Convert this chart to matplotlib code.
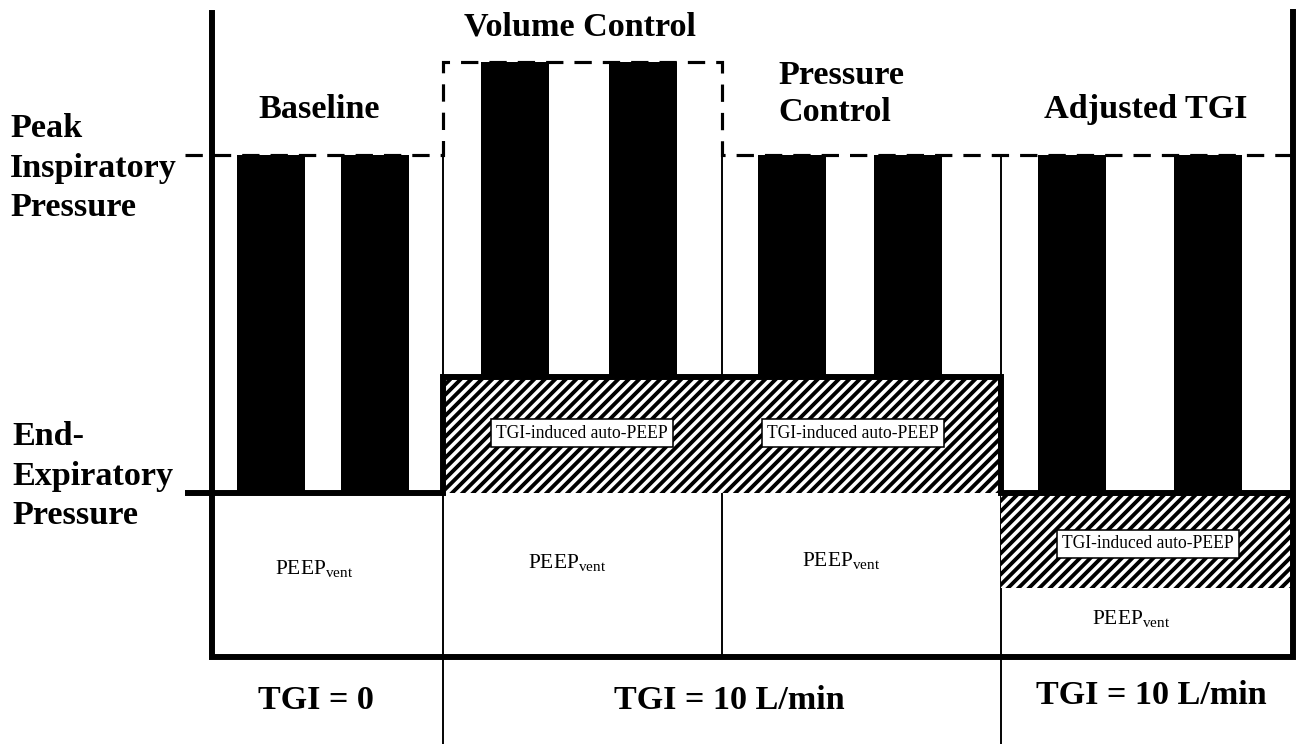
import matplotlib
matplotlib.use("Agg")
import matplotlib.pyplot as plt

# ----------------------------------------------------------------------------------------------------------------------
# Schematic data (units = reference picture pixels, y grows downwards)

section_names = ["Baseline", "Volume Control", "Pressure\nControl", "Adjusted TGI"]
section_edges = [185, 443, 722, 1001, 1293]
peak_levels = [155, 62, 155, 155]          # peak inspiratory pressure per section
eep_levels = [493, 377, 377, 493]          # end-expiratory pressure per section
bar_lefts = [[237, 341], [481, 609], [758, 874], [1038, 1174]]
bar_width = 68
bar_tops = [155, 62, 155, 155]
bar_bottoms = [493, 377, 377, 493]

# hatched TGI-induced auto-PEEP blocks: left, right, top, bottom
auto_peep_left = [443, 1001]
auto_peep_right = [1001, 1293]
auto_peep_top = [377, 493]
auto_peep_bottom = [493, 588]
auto_peep_label_pos = [(582, 433), (853, 433), (1148, 544)]

peep_label_pos = [(314, 569), (567, 563), (841, 561), (1131, 619)]

tgi_labels = ["TGI = 0", "TGI = 10 L/min", "TGI = 10 L/min"]
tgi_label_pos = [(316, 709), (729, 709), (1151, 704)]

frame_x = [212, 212, 1293, 1293]
frame_y = [13, 657, 657, 12]
divider_x = [443, 722, 1001]
divider_top = [155, 155, 155]
divider_bottom = [744, 657, 744]

# ----------------------------------------------------------------------------------------------------------------------

plt.rcParams["font.family"] = ["Liberation Serif", "DejaVu Serif"]
plt.rcParams["mathtext.fontset"] = "custom"
plt.rcParams["mathtext.rm"] = "Liberation Serif"
plt.rcParams["hatch.linewidth"] = 2.2

DPI = 126
fig = plt.figure(figsize=(1299 / DPI, 744 / DPI), dpi=DPI)
ax = fig.add_axes([0, 0, 1, 1])
ax.set_xlim(0, 1299)
ax.set_ylim(744, 0)
ax.axis("off")

# Thin section dividers
for x_, t_, b_ in zip(divider_x, divider_top, divider_bottom):
    ax.plot([x_, x_], [t_, b_], color="black", lw=1.1, zorder=1)

# Breath bars
for lefts, top, bottom in zip(bar_lefts, bar_tops, bar_bottoms):
    ax.bar(lefts, bottom - top, bottom=top, width=bar_width, align="edge", color="black", zorder=2)

# Hatched auto-PEEP blocks
for l_, r_, t_, b_ in zip(auto_peep_left, auto_peep_right, auto_peep_top, auto_peep_bottom):
    ax.bar(l_, b_ - t_, bottom=t_, width=r_ - l_, align="edge", facecolor="white",
           edgecolor="black", hatch="////", lw=0, zorder=1.5)

# Peak inspiratory pressure (dashed) and end-expiratory pressure (thick)
ax.stairs(peak_levels, section_edges, baseline=None, color="black", lw=1.8,
          linestyle=(0, (5.5, 3.5)), zorder=4)
ax.stairs(eep_levels, section_edges, baseline=None, color="black", lw=3.4, zorder=4)

# Outer frame
ax.plot(frame_x, frame_y, color="black", lw=3.4, solid_joinstyle="miter", zorder=4)

# Section titles
ax.text(319, 118, section_names[0], ha="center", va="baseline", fontsize=19.5, fontweight="bold")
ax.text(580, 35, section_names[1], ha="center", va="baseline", fontsize=19.5, fontweight="bold")
ax.text(778, 121, section_names[2], ha="left", va="baseline", fontsize=19.5, fontweight="bold",
        linespacing=1.25)
ax.text(1146, 118, section_names[3], ha="center", va="baseline", fontsize=19.5, fontweight="bold")

# Left axis labels
ax.text(10, 216, "Peak\nInspiratory\nPressure", ha="left", va="baseline", fontsize=19.5,
        fontweight="bold", linespacing=1.35)
ax.text(12, 524, "End-\nExpiratory\nPressure", ha="left", va="baseline", fontsize=19.5,
        fontweight="bold", linespacing=1.35)

# Inner labels
for x_, y_ in auto_peep_label_pos:
    ax.text(x_, y_, "TGI-induced auto-PEEP", ha="center", va="center", fontsize=10, zorder=5,
            bbox=dict(boxstyle="square,pad=0.3", facecolor="white", edgecolor="black", lw=0.9))

for x_, y_ in peep_label_pos:
    ax.text(x_, y_, r"PEEP$_{\mathregular{vent}}$", ha="center", va="center", fontsize=12.3, zorder=5)

for lbl, (x_, y_) in zip(tgi_labels, tgi_label_pos):
    ax.text(x_, y_, lbl, ha="center", va="baseline", fontsize=19.5, fontweight="bold")

fig.savefig("out.png", dpi=DPI)
